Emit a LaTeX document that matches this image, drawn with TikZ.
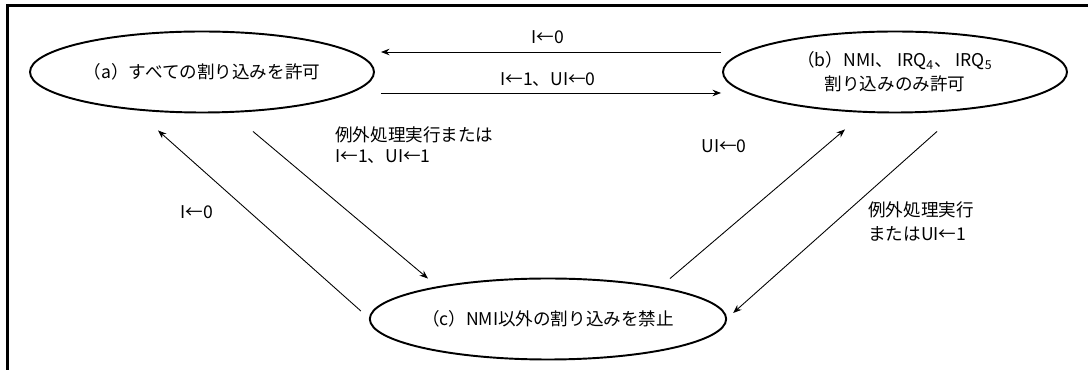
\documentclass[tikz,border=0pt]{standalone}
\usepackage{fontspec}
\setmainfont{Noto Sans CJK JP}
\usetikzlibrary{shapes.geometric,arrows.meta}

\begin{document}
\begin{tikzpicture}[
  state/.style = {draw, ellipse, line width=1.1pt, minimum width=6.88cm, minimum height=1.62cm, inner sep=0pt, align=center},
  trans/.style = {-{Stealth[length=0.17cm, width=0.13cm]}, line width=0.5pt},
  lbl/.style = {inner sep=0pt, align=left},
  font = \fontsize{10}{12}\selectfont
]
\useasboundingbox (0, 0) rectangle (21.76, -7.4);
\draw[line width=1.7pt] (0.15, -7.4) -- (0.15, -0.12) -- (21.76, -0.12);

\node[state] (a) at (4.04, -1.44) {（a）すべての割り込みを許可};
\node[state] (b) at (17.9, -1.44) {（b）NMI、 IRQ\textsubscript{4}、 IRQ\textsubscript{5}\\[1.5pt]割り込みのみ許可};
\node[state] (c) at (10.96, -6.38) {（c）NMI以外の割り込みを禁止};

\draw[trans] ([xshift=-0.02cm, yshift=0.4cm]b.west) -- ([xshift=0.12cm, yshift=0.4cm]a.east);
\draw[trans] ([xshift=0.12cm, yshift=-0.42cm]a.east) -- ([xshift=-0.02cm, yshift=-0.42cm]b.west);
\draw[trans] ([xshift=1.02cm, yshift=-0.36cm]a.south) -- ([xshift=-2.4cm, yshift=-0.02cm]c.north);
\draw[trans] ([xshift=-0.16cm, yshift=0.16cm]c.west) -- ([xshift=-0.88cm, yshift=-0.34cm]a.south);
\draw[trans] ([xshift=2.44cm, yshift=-0.02cm]c.north) -- ([xshift=-1.0cm, yshift=-0.32cm]b.south);
\draw[trans] ([xshift=0.84cm, yshift=-0.36cm]b.south) -- ([xshift=0.12cm, yshift=0.12cm]c.east);

\node[lbl] (ab) at (10.96, -0.74) {I←0};
\node[lbl] (ba) at (10.96, -1.6) {I←1、UI←0};
\node[lbl, anchor=west] (ac) at (6.7, -2.9) {例外処理実行または\\I←1、UI←1};
\node[lbl] (ca) at (3.94, -4.24) {I←0};
\node[lbl] (cb) at (14.48, -2.92) {UI←0};
\node[lbl, anchor=west] (bc) at (17.36, -4.43) {例外処理実行\\[1.5pt]またはUI←1};
\end{tikzpicture}
\end{document}
